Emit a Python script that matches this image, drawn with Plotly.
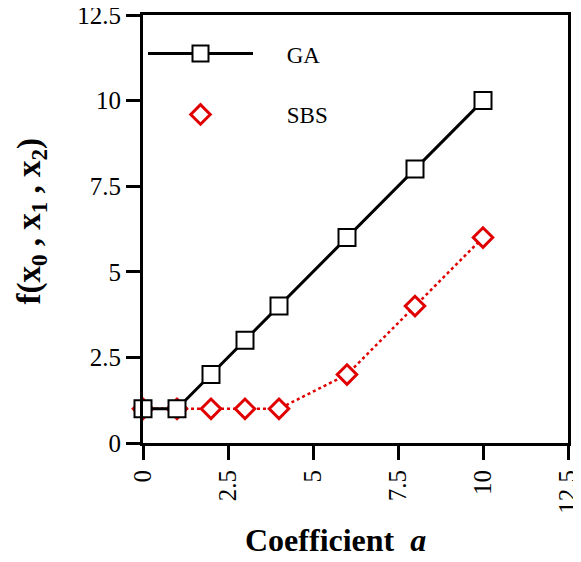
import plotly.graph_objects as go

coef_ga = [0, 1, 2, 3, 4, 6, 8, 10]
f_ga = [1, 1, 2, 3, 4, 6, 8, 10]
coef_sbs = [0, 1, 2, 3, 4, 6, 8, 10]
f_sbs = [1, 1, 1, 1, 1, 2, 4, 6]
tick_vals = [0, 2.5, 5, 7.5, 10, 12.5]
tick_text = ["0", "2.5", "5", "7.5", "10", "12.5"]

FONT = "Liberation Serif"
RED = "#e00000"
NB = "\u00a0"

sbs_marker = dict(symbol="diamond", size=15, color="white", line=dict(color=RED, width=3))

fig = go.Figure()
fig.add_trace(go.Scatter(
    x=coef_sbs, y=f_sbs, mode="lines+markers", name="SBS",
    line=dict(color=RED, width=2.5, dash="dot"),
    marker=sbs_marker, cliponaxis=False, showlegend=False,
))
fig.add_trace(go.Scatter(
    x=coef_ga, y=f_ga, mode="lines+markers", name=NB * 5 + "GA",
    line=dict(color="black", width=3),
    marker=dict(symbol="square", size=17, color="white", line=dict(color="black", width=2)),
    cliponaxis=False, legendrank=1, legendgroup="a",
))
# legend entry for SBS (marker only, as in the reference)
fig.add_trace(go.Scatter(
    x=[None], y=[None], mode="markers", name=NB * 5 + "SBS",
    marker=sbs_marker, legendrank=2, legendgroup="b",
))

axis_common = dict(
    range=[0, 12.5], tickvals=tick_vals, ticktext=tick_text,
    showline=True, linecolor="black", linewidth=3, mirror=True,
    ticks="outside", ticklen=14, tickwidth=3, tickcolor="black",
    showgrid=False, zeroline=False, automargin=False,
    ticklabeloverflow="allow",
    tickfont=dict(family=FONT, size=25, color="black"),
)
fig.update_xaxes(**axis_common, tickangle=-90)
fig.update_yaxes(**axis_common)

fig.add_annotation(
    text="<b>Coefficient  <i>a</i></b>", xref="paper", yref="paper",
    x=0.454, y=-0.227, xanchor="center", yanchor="middle", showarrow=False,
    font=dict(family=FONT, size=32, color="black"),
)
fig.add_annotation(
    text="<b>f(x<sub>0</sub> , x<sub>1</sub> , x<sub>2</sub>)</b>", xref="paper", yref="paper",
    x=-0.262, y=0.519, xanchor="center", yanchor="middle", showarrow=False, textangle=-90,
    font=dict(family=FONT, size=33, color="black"),
)

# the page body adds an 8px offset; size/margins compensate so the plot area
# lands at x 143..568, y 15..443 in the window
fig.update_layout(
    width=573, height=554,
    margin=dict(l=135, r=13, t=7, b=119, autoexpand=False),
    plot_bgcolor="white", paper_bgcolor="white",
    showlegend=True,
    legend=dict(
        x=0.0, y=0.96, xanchor="left", yanchor="top",
        bgcolor="rgba(0,0,0,0)", itemwidth=105, tracegroupgap=28,
        font=dict(family=FONT, size=23, color="black"),
    ),
)

fig.write_html("out.html")
